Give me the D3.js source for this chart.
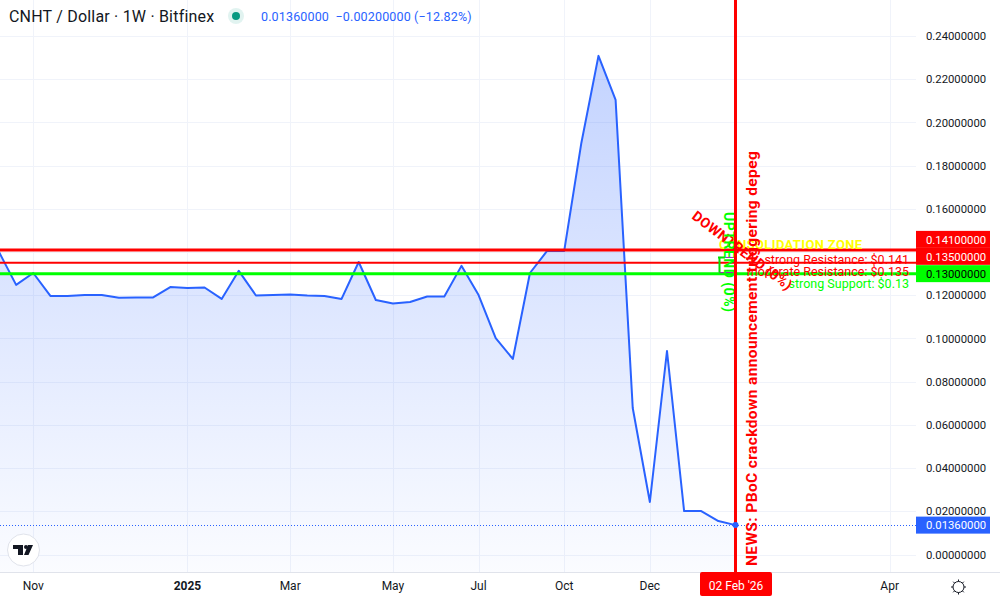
<!DOCTYPE html>
<html><head><meta charset="utf-8">
<script src="https://d3js.org/d3.v7.min.js"></script>
<style>html,body{margin:0;background:#fff}svg{display:block}text{font-family:"Roboto",sans-serif}</style>
</head><body><svg id="c" width="1000" height="600"></svg>
<script>
const values=[0.1400,0.1248,0.1303,0.1197,0.1197,0.1201,0.1201,0.1188,0.1190,0.1190,0.1238,0.1234,0.1236,0.1183,0.1313,0.1199,0.1201,0.1204,0.1199,0.1197,0.1183,0.1354,0.1178,0.1162,0.1169,0.1194,0.1194,0.1336,0.1201,0.1002,0.0905,0.1303,0.1405,0.1405,0.1905,0.2308,0.2104,0.0678,0.0243,0.0942,0.0201,0.0201,0.0155,0.0136];
const priceTicks=[0,0.02,0.04,0.06,0.08,0.10,0.12,0.14,0.16,0.18,0.20,0.22,0.24];
const hiddenTickLabels=[0.14];
const timeLabels=["Nov","2025","Mar","May","Jul","Oct","Dec","Apr"];
const timeIndex=[2,11,17,23,28,33,38,52];
const timeBold=["2025"];
const levelValues=[0.141,0.135,0.13];
const levelColors=["#ff0000","#ff0000","#00ff00"];
const levelWidths=[3,2,3];
const levelLabelFill=["#fff","#fff","#000"];
const levelNudge=[-10.5,-6.5,0];
const levelNotes=["strong Resistance: $0.141","moderate Resistance: $0.135","strong Support: $0.13"];
const last=0.0136;
const W=916,H=572;
const svg=d3.select("#c");
const x=d3.scaleLinear().domain([0,43]).range([-1,735.5]);
const y=d3.scaleLinear().domain([0,0.24]).range([554.5,36]);
const defs=svg.append("defs");
const g=defs.append("linearGradient").attr("id","ar").attr("gradientUnits","userSpaceOnUse")
 .attr("x1",0).attr("x2",0).attr("y1",y(0.2308)).attr("y2",H);
g.append("stop").attr("offset",0).attr("stop-color","#2962ff").attr("stop-opacity",0.28);
g.append("stop").attr("offset",1).attr("stop-color","#2962ff").attr("stop-opacity",0.02);
defs.append("clipPath").attr("id","pl").append("rect").attr("width",W).attr("height",H);
const grid="#f0f3fa";
const pl=svg.append("g").attr("clip-path","url(#pl)");
pl.selectAll(".h").data(priceTicks).join("line").attr("x1",0).attr("x2",W).attr("y1",d=>Math.round(y(d))+.5).attr("y2",d=>Math.round(y(d))+.5).attr("stroke",grid);
pl.selectAll(".v").data(timeIndex).join("line").attr("y1",0).attr("y2",H).attr("x1",d=>Math.round(x(d))+.5).attr("x2",d=>Math.round(x(d))+.5).attr("stroke",grid);
pl.append("path").datum(values).attr("fill","url(#ar)").attr("d",d3.area().x((d,i)=>x(i)).y0(H).y1(d=>y(d)));
pl.append("path").datum(values).attr("fill","none").attr("stroke","#2962ff").attr("stroke-width",2).attr("stroke-linejoin","round").attr("d",d3.line().x((d,i)=>x(i)).y(d=>y(d)));
pl.append("line").attr("x1",0).attr("x2",W).attr("y1",Math.round(y(last))+.5).attr("y2",Math.round(y(last))+.5).attr("stroke","#2962ff").attr("stroke-dasharray","1 2");
const lx=x(43);
pl.selectAll(".lev").data(levelValues).join("line").attr("x1",0).attr("x2",W).attr("y1",d=>y(d)).attr("y2",d=>y(d)).attr("stroke",(d,i)=>levelColors[i]).attr("stroke-width",(d,i)=>levelWidths[i]);
pl.append("path").attr("d",`M719 ${y(0.1305)}H${lx}M719 ${y(0.1375)}H${lx}`).attr("stroke","#9c27b0").attr("stroke-width",1).attr("fill","none");
pl.append("path").attr("d",`M719.5 ${y(0.1305)}V${y(0.1375)}M718 ${y(0.1375)}H725`).attr("stroke","#00e000").attr("stroke-width",2).attr("fill","none");
pl.append("text").attr("x",719).attr("y",249).attr("fill","#ffff00").attr("font-size",13).attr("font-weight","bold").attr("letter-spacing",0.35).text("CONSOLIDATION ZONE");
const noteY=[264,276,288];
const noteFill=["#ff0000","#ff0000","#00ff00"];
pl.selectAll(".n").data(levelNotes).join("text").attr("x",909).attr("y",(d,i)=>noteY[i]).attr("text-anchor","end").attr("fill",(d,i)=>noteFill[i]).attr("font-size",12.5).text(d=>d);
pl.append("text").attr("transform","translate(691,218) rotate(37)").attr("fill","#ff0000").attr("font-size",14).attr("font-weight","bold").attr("letter-spacing",0.3).text("DOWNTREND (0%)");
pl.append("text").attr("transform","translate(724,212) rotate(90)").attr("fill","#00ff00").attr("font-size",14).attr("font-weight","bold").attr("letter-spacing",0.5).text("UPTREND (0%)");
pl.append("line").attr("x1",lx).attr("x2",lx).attr("y1",0).attr("y2",H).attr("stroke","#ff0000").attr("stroke-width",3);
pl.append("circle").attr("cx",lx).attr("cy",y(last)).attr("r",3).attr("fill","#2962ff");
pl.append("text").attr("transform","translate(757,566) rotate(-90)").attr("fill","#ff0000").attr("font-size",15.5).attr("font-weight","bold").attr("letter-spacing",0.38).text("NEWS: PBoC crackdown announcement triggering depeg");
svg.append("line").attr("x1",0).attr("x2",1000).attr("y1",572.5).attr("y2",572.5).attr("stroke","#e0e3eb");
const axisR=d3.axisRight(y).tickValues(priceTicks.filter(d=>!hiddenTickLabels.includes(d))).tickSize(0).tickPadding(0).tickFormat(d3.format(".8f"));
const ar=svg.append("g").attr("transform","translate(926,0)").call(axisR);
ar.select(".domain").remove();
ar.selectAll("text").attr("fill","#131722").attr("font-size",11.3).attr("font-family","Roboto");
svg.selectAll(".t").data(timeLabels).join("text").attr("x",(d,i)=>x(timeIndex[i])).attr("y",590).attr("text-anchor","middle").attr("fill","#131722").attr("font-size",12).attr("font-weight",d=>timeBold.includes(d)?"bold":"normal").text(d=>d);
const tag=svg.append("g");
const tags=levelValues.map((v,i)=>({v,c:levelColors[i],f:levelLabelFill[i],n:levelNudge[i]})).concat([{v:last,c:"#2962ff",f:"#fff",n:0}]);
tag.selectAll("rect").data(tags).join("rect").attr("x",916).attr("width",74).attr("y",d=>y(d.v)+d.n-8.5).attr("height",17).attr("fill",d=>d.c);
tag.selectAll("text").data(tags).join("text").attr("x",926).attr("y",d=>y(d.v)+d.n+4.2).attr("fill",d=>d.f).attr("font-size",11.3).text(d=>d3.format(".8f")(d.v));
svg.append("rect").attr("x",700).attr("y",572).attr("width",72).attr("height",24).attr("rx",2).attr("fill","#ff0000");
svg.append("text").attr("x",736).attr("y",590).attr("text-anchor","middle").attr("fill","#fff").attr("font-size",12).text("02 Feb '26");
svg.append("text").attr("x",9).attr("y",22).attr("fill","#131722").attr("font-size",16).attr("letter-spacing",0.2).text("CNHT / Dollar · 1W · Bitfinex");
svg.append("circle").attr("cx",236).attr("cy",16).attr("r",8).attr("fill","#089981").attr("fill-opacity",.12);
svg.append("circle").attr("cx",236).attr("cy",16).attr("r",4).attr("fill","#089981");
svg.append("text").attr("x",261).attr("y",21).attr("fill","#2962ff").attr("font-size",12.5).attr("letter-spacing",0.15).style("white-space","pre").text("0.01360000  −0.00200000 (−12.82%)");
svg.append("circle").attr("cx",23.5).attr("cy",550).attr("r",16).attr("fill","#fff").attr("stroke","#e0e3eb");
svg.append("path").attr("d","M13 545H23V555H18V549H13ZM28 545L24 555H28.5L33 545Z").attr("fill","#131722");
svg.append("circle").attr("cx",26).attr("cy",547).attr("r",2).attr("fill","#131722");
svg.append("circle").attr("cx",958.5).attr("cy",587).attr("r",5.5).attr("fill","none").attr("stroke","#131722");
svg.append("path").attr("d","M958.5 579.5v2M958.5 592.5v2M951 587h2M964 587h2M953.2 581.7l1.4 1.4M962.4 590.9l1.4 1.4M963.8 581.7l-1.4 1.4M954.6 590.9l-1.4 1.4").attr("stroke","#131722");
</script></body></html>
